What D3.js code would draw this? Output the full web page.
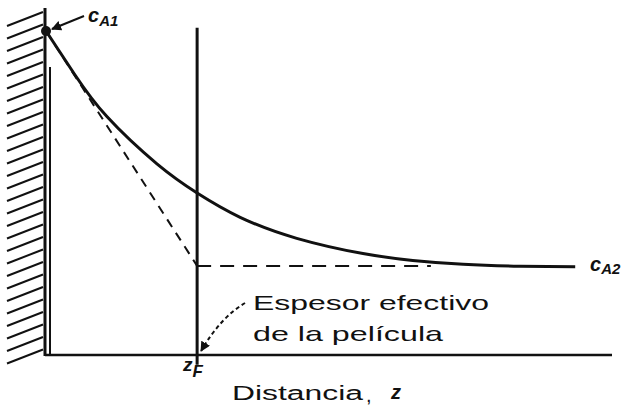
<html>
<head>
<script src="https://d3js.org/d3.v7.min.js"></script>
<style>
  body { margin: 0; background: #fff; }
  text { font-family: "Liberation Sans", Arial, sans-serif; fill: #111; }
</style>
</head>
<body>
<svg width="636" height="408"></svg>
<script>
// distance z (arbitrary units) and concentration c_A (normalized, c_A1 = 1)
const profileZ = [0, 0.51, 1.08, 1.96, 2.67, 3.43, 4.43, 5.60, 6.48, 7.37, 8.37, 9.35];
const profileC = [1.0, 0.865, 0.735, 0.590, 0.500, 0.425, 0.360, 0.313, 0.292, 0.280, 0.274, 0.272];
const zF = 2.67;
const cA1 = 1.0;
const cA2 = 0.275;
const plateauEnd = 6.8;

const svg = d3.select("svg");
const x = d3.scaleLinear().domain([0, 10]).range([46, 612]);
const y = d3.scaleLinear().domain([0, 1]).range([355, 31]);

const ink = "#111";

// arrowhead marker
svg.append("defs").append("marker")
    .attr("id", "head")
    .attr("viewBox", "0 0 10 10")
    .attr("refX", 9).attr("refY", 5)
    .attr("markerWidth", 5).attr("markerHeight", 5)
    .attr("orient", "auto")
    .append("path").attr("d", "M0,0 L10,5 L0,10 Z").attr("fill", ink);

// hatched wall
const wallX = x(0) - 1;
const hatch = d3.range(12, 356, 12.5);
svg.append("g")
    .selectAll("line")
    .data(hatch)
    .enter()
    .append("line")
    .attr("x1", 7).attr("y1", d => d + 14)
    .attr("x2", wallX - 2).attr("y2", d => d)
    .attr("stroke", ink).attr("stroke-width", 2);
svg.append("line")
    .attr("x1", wallX).attr("x2", wallX)
    .attr("y1", 8).attr("y2", y(0) + 1)
    .attr("stroke", ink).attr("stroke-width", 3);
svg.append("line")
    .attr("x1", wallX + 5).attr("x2", wallX + 5)
    .attr("y1", 67).attr("y2", y(0))
    .attr("stroke", ink).attr("stroke-width", 2);

// baseline (distance axis)
svg.append("line")
    .attr("x1", wallX).attr("x2", x(10))
    .attr("y1", y(0)).attr("y2", y(0))
    .attr("stroke", ink).attr("stroke-width", 2.5);

// film thickness vertical
svg.append("line")
    .attr("x1", x(zF)).attr("x2", x(zF))
    .attr("y1", y(1.01)).attr("y2", y(-0.03))
    .attr("stroke", ink).attr("stroke-width", 3);

// dashed tangent and dashed c_A2 level
svg.append("line")
    .attr("x1", x(0)).attr("y1", y(cA1))
    .attr("x2", x(zF)).attr("y2", y(cA2))
    .attr("stroke", ink).attr("stroke-width", 2)
    .attr("stroke-dasharray", "9,7");
svg.append("line")
    .attr("x1", x(zF)).attr("y1", y(cA2))
    .attr("x2", x(plateauEnd)).attr("y2", y(cA2))
    .attr("stroke", ink).attr("stroke-width", 2)
    .attr("stroke-dasharray", "14,9");

// concentration profile
const line = d3.line()
    .x(d => x(d[0]))
    .y(d => y(d[1]))
    .curve(d3.curveNatural);
svg.append("path")
    .datum(d3.zip(profileZ, profileC))
    .attr("d", line)
    .attr("fill", "none")
    .attr("stroke", ink).attr("stroke-width", 3);

// point at c_A1
svg.append("circle")
    .attr("cx", x(0)).attr("cy", y(cA1)).attr("r", 5).attr("fill", ink);

// c_A1 label with arrow
svg.append("line")
    .attr("x1", 84).attr("y1", 16)
    .attr("x2", x(0) + 6).attr("y2", y(cA1) - 2)
    .attr("stroke", ink).attr("stroke-width", 2)
    .attr("marker-end", "url(#head)");
const l1 = svg.append("text").attr("x", 88).attr("y", 22)
    .attr("font-size", 20).attr("font-style", "italic").attr("font-weight", "bold");
l1.append("tspan").text("c");
l1.append("tspan").attr("font-size", 15).attr("dy", 4).text("A1");

// c_A2 label
const l2 = svg.append("text").attr("x", 590).attr("y", 271)
    .attr("font-size", 20).attr("font-style", "italic").attr("font-weight", "bold");
l2.append("tspan").text("c");
l2.append("tspan").attr("font-size", 15).attr("dy", 3).text("A2");

// film label and dotted arrow
svg.append("path")
    .attr("d", `M245,303 Q220,318 ${x(zF) + 4},${y(0) - 4}`)
    .attr("fill", "none")
    .attr("stroke", ink).attr("stroke-width", 2)
    .attr("stroke-dasharray", "4,3")
    .attr("marker-end", "url(#head)");
svg.append("text").attr("x", 253).attr("y", 310).attr("font-size", 21)
    .attr("textLength", 236).attr("lengthAdjust", "spacingAndGlyphs")
    .text("Espesor efectivo");
svg.append("text").attr("x", 253).attr("y", 341).attr("font-size", 21)
    .attr("textLength", 190).attr("lengthAdjust", "spacingAndGlyphs")
    .text("de la película");

// z_F label
const lz = svg.append("text").attr("x", 183).attr("y", 371)
    .attr("font-size", 19).attr("font-style", "italic").attr("font-weight", "bold");
lz.append("tspan").text("z");
lz.append("tspan").attr("font-size", 17).attr("dy", 6).text("F");

// axis title
svg.append("text").attr("x", 232).attr("y", 400).attr("font-size", 20)
    .attr("textLength", 131).attr("lengthAdjust", "spacingAndGlyphs")
    .text("Distancia");
svg.append("text").attr("x", 366).attr("y", 402).attr("font-size", 20).text(",");
svg.append("text").attr("x", 391).attr("y", 399).attr("font-size", 20)
    .attr("font-style", "italic").attr("font-weight", "bold").text("z");
</script>
</body>
</html>
